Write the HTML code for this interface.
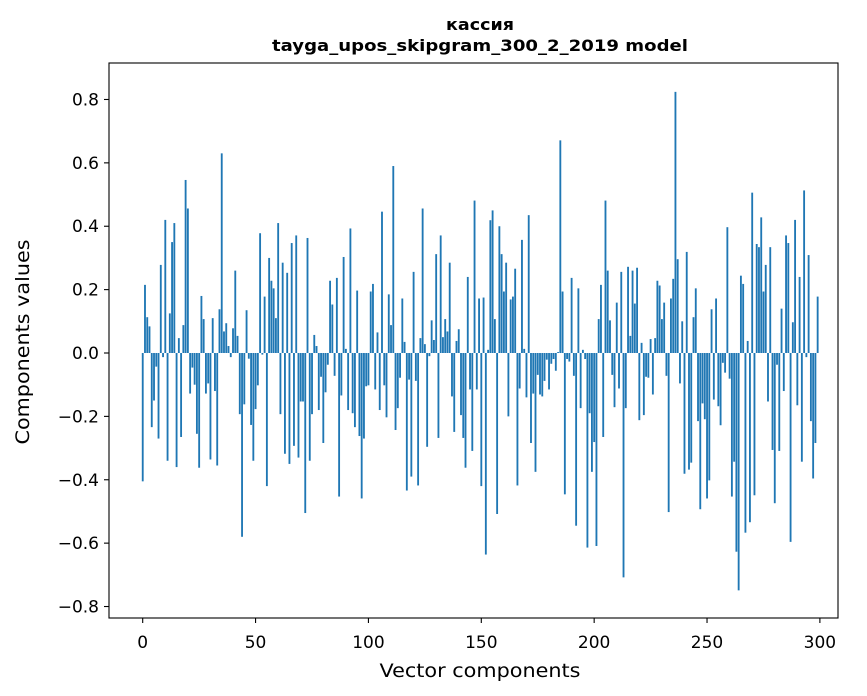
<!DOCTYPE html>
<html><head><meta charset="utf-8"><style>
html,body{margin:0;padding:0;background:#fff}
svg{display:block;font-family:"DejaVu Sans","Liberation Sans",sans-serif}
</style></head><body>
<svg id="chart" width="867" height="696" viewBox="0 0 867 696" xmlns="http://www.w3.org/2000/svg">
<rect width="867" height="696" fill="#fff"/>
<text x="480" y="30" text-anchor="middle" font-size="16" font-weight="bold" textLength="68" lengthAdjust="spacingAndGlyphs">кассия</text>
<text x="480" y="51" text-anchor="middle" font-size="16" font-weight="bold" textLength="416" lengthAdjust="spacingAndGlyphs">tayga_upos_skipgram_300_2_2019 model</text>
<g id="bars"></g>
<g id="axes"></g>
<text x="480" y="677" text-anchor="middle" font-size="19" textLength="201" lengthAdjust="spacingAndGlyphs">Vector components</text>
<text transform="translate(29,342) rotate(-90)" text-anchor="middle" font-size="19" textLength="205" lengthAdjust="spacingAndGlyphs">Components values</text>
</svg>
<script>
const values = [
-0.405,0.215,0.113,0.084,-0.234,-0.15,-0.043,-0.27,0.278,-0.013,
0.42,-0.34,0.125,0.35,0.41,-0.36,0.047,-0.265,0.088,0.546,
0.456,-0.128,-0.046,-0.1,-0.255,-0.362,0.18,0.107,-0.128,-0.096,
-0.336,0.11,-0.12,-0.355,0.138,0.63,0.068,0.094,0.022,-0.013,
0.078,0.26,0.054,-0.193,-0.58,-0.162,0.135,-0.018,-0.227,-0.34,
-0.177,-0.102,0.378,-0.005,0.178,-0.42,0.3,0.228,0.204,0.11,
0.41,-0.193,0.285,-0.318,0.253,-0.35,0.347,-0.293,0.371,-0.33,
-0.153,-0.153,-0.505,0.363,-0.34,-0.193,0.057,0.022,-0.18,-0.075,
-0.284,-0.124,-0.037,0.228,0.153,-0.072,0.237,-0.453,-0.134,0.303,
0.013,-0.18,0.393,-0.19,-0.234,0.197,-0.262,-0.459,-0.27,-0.105,
-0.102,0.194,0.218,-0.115,0.065,-0.18,0.446,-0.102,-0.203,0.185,
0.088,0.59,-0.243,-0.174,-0.078,0.172,0.035,-0.434,-0.084,-0.39,
0.256,-0.088,-0.418,0.047,0.456,0.028,-0.296,-0.01,0.103,0.041,
0.312,-0.268,0.371,0.05,0.107,0.068,0.285,-0.137,-0.249,0.038,
0.075,-0.196,-0.268,-0.362,0.24,-0.115,-0.309,0.481,-0.115,0.172,
-0.42,0.175,-0.636,0.01,0.419,0.45,0.107,-0.508,0.4,0.312,
0.194,0.285,-0.2,0.169,0.178,0.266,-0.418,-0.112,0.357,0.013,
-0.14,0.435,-0.284,-0.128,-0.375,-0.069,-0.131,-0.137,-0.088,-0.021,
-0.115,-0.034,-0.019,-0.056,0.003,0.671,0.194,-0.446,-0.019,-0.027,
0.237,-0.072,-0.545,0.204,-0.174,0.01,-0.019,-0.614,-0.19,-0.375,
-0.281,-0.609,0.107,0.215,-0.265,0.481,0.26,0.103,-0.069,-0.171,
0.159,-0.112,0.256,-0.708,-0.174,0.272,0.054,0.26,0.156,0.269,
-0.212,0.032,-0.196,-0.075,-0.078,0.044,-0.131,0.047,0.228,0.213,
0.107,0.159,-0.072,-0.502,0.172,0.234,0.824,0.296,-0.096,0.1,
-0.381,0.319,-0.368,-0.346,0.113,0.204,-0.215,-0.493,-0.159,-0.209,
-0.459,-0.402,0.138,-0.147,0.172,-0.168,-0.228,-0.031,-0.062,0.397,
-0.081,-0.453,-0.343,-0.627,-0.749,0.244,0.218,-0.567,0.038,-0.534,
0.506,-0.449,0.344,0.334,0.428,0.194,0.278,-0.153,0.334,-0.306,
-0.474,-0.037,-0.309,0.14,-0.12,0.371,0.347,-0.596,0.097,0.42,
-0.165,0.24,-0.343,0.513,-0.013,0.309,-0.215,-0.396,-0.284,0.178
];
const xTicks = [0,50,100,150,200,250,300];
const yTicks = [-0.8,-0.6,-0.4,-0.2,0.0,0.2,0.4,0.6,0.8];

const NS = "http://www.w3.org/2000/svg";
const L = 109, R = 838, T = 63, B = 618;
function xScale(v){ return 142.7 + v * 2.2573; }
function yScale(v){ return 353 - v * 316.9; }

const barsG = document.getElementById('bars');
values.forEach((v, i) => {
  const r = document.createElementNS(NS, 'rect');
  const y0 = yScale(0), y1 = yScale(v);
  r.setAttribute('x', (xScale(i) - 0.9).toFixed(2));
  r.setAttribute('width', '1.85');
  r.setAttribute('y', Math.min(y0, y1).toFixed(2));
  r.setAttribute('height', Math.max(Math.abs(y1 - y0), 0.3).toFixed(2));
  r.setAttribute('fill', '#1f77b4');
  
  
  barsG.appendChild(r);
});

const axesG = document.getElementById('axes');
const frame = document.createElementNS(NS, 'rect');
frame.setAttribute('x', L); frame.setAttribute('y', T);
frame.setAttribute('width', R - L); frame.setAttribute('height', B - T);
frame.setAttribute('fill', 'none'); frame.setAttribute('stroke', '#000'); frame.setAttribute('stroke-width', '1.1');


axesG.appendChild(frame);

xTicks.forEach(t => {
  const x = xScale(t);
  const ln = document.createElementNS(NS, 'line');
  ln.setAttribute('x1', x); ln.setAttribute('x2', x);
  ln.setAttribute('y1', B); ln.setAttribute('y2', B + 5);
  ln.setAttribute('stroke', '#000'); ln.setAttribute('stroke-width', '1.1');
  
  
  axesG.appendChild(ln);
  const tx = document.createElementNS(NS, 'text');
  tx.setAttribute('x', x); tx.setAttribute('y', 648);
  tx.setAttribute('text-anchor', 'middle'); tx.setAttribute('font-size', '17');
  tx.textContent = String(t);
  
  
  axesG.appendChild(tx);
});

yTicks.forEach(t => {
  const y = yScale(t);
  const ln = document.createElementNS(NS, 'line');
  ln.setAttribute('x1', L - 5); ln.setAttribute('x2', L);
  ln.setAttribute('y1', y); ln.setAttribute('y2', y);
  ln.setAttribute('stroke', '#000'); ln.setAttribute('stroke-width', '1.1');
  
  
  axesG.appendChild(ln);
  const tx = document.createElementNS(NS, 'text');
  tx.setAttribute('x', 99); tx.setAttribute('y', y + 6);
  tx.setAttribute('text-anchor', 'end'); tx.setAttribute('font-size', '17');
  tx.textContent = (t < 0 ? '\u2212' : '') + Math.abs(t).toFixed(1);
  
  
  axesG.appendChild(tx);
});
</script>
</body></html>
